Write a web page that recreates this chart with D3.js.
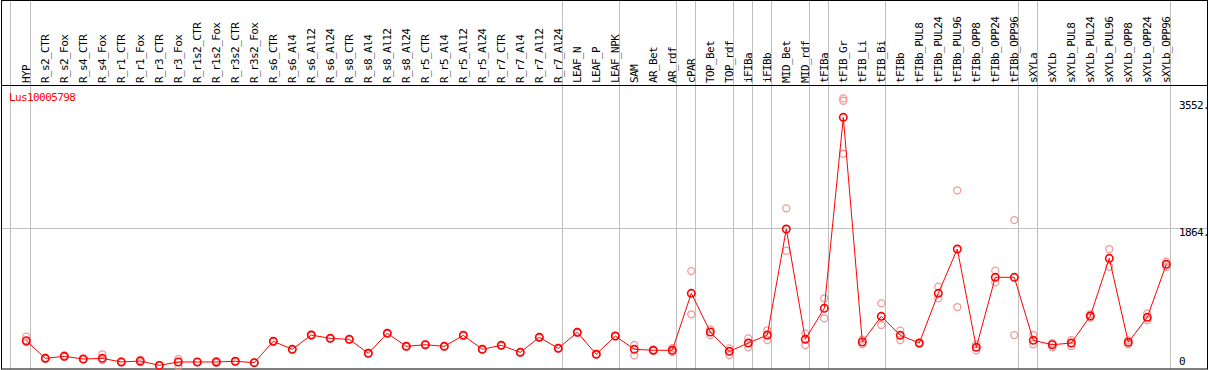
<!DOCTYPE html>
<html>
<meta charset="utf-8">
<style>
body { margin: 0; background: #fff; }
text { font-family: "DejaVu Sans Mono", monospace; font-size: 11px; letter-spacing: -0.6px; }
</style>
<head>
<script src="https://d3js.org/d3.v7.min.js"></script>
</head>
<body>
<script>
// sample names, in column order
var samples = ["HYP", "R_s2_CTR", "R_s2_Fox", "R_s4_CTR", "R_s4_Fox", "R_r1_CTR", "R_r1_Fox",
  "R_r3_CTR", "R_r3_Fox", "R_r1s2_CTR", "R_r1s2_Fox", "R_r3s2_CTR", "R_r3s2_Fox",
  "R_s6_CTR", "R_s6_Al4", "R_s6_Al12", "R_s6_Al24", "R_s8_CTR", "R_s8_Al4", "R_s8_Al12", "R_s8_Al24",
  "R_r5_CTR", "R_r5_Al4", "R_r5_Al12", "R_r5_Al24", "R_r7_CTR", "R_r7_Al4", "R_r7_Al12", "R_r7_Al24",
  "LEAF_N", "LEAF_P", "LEAF_NPK", "SAM", "AR_Bet", "AR_rdf", "cPAR", "TOP_Bet", "TOP_rdf",
  "iFIBa", "iFIBb", "MID_Bet", "MID_rdf", "tFIBa", "tFIB_Gr", "tFIB_Li", "tFIB_Bi",
  "tFIBb", "tFIBb_PUL8", "tFIBb_PUL24", "tFIBb_PUL96", "tFIBb_OPP8", "tFIBb_OPP24", "tFIBb_OPP96",
  "sXYLa", "sXYLb", "sXYLb_PUL8", "sXYLb_PUL24", "sXYLb_PUL96", "sXYLb_OPP8", "sXYLb_OPP24", "sXYLb_OPP96"];

// mean expression
var means = [375, 141, 168, 132, 141, 93, 106, 48, 93, 93, 93, 102, 84,
  367, 261, 450, 406, 393, 208, 473, 300,
  322, 300, 446, 261, 314, 221, 420, 274,
  486, 195, 437, 261, 248, 248, 1003, 490, 234,
  344, 450, 1855, 393, 804, 3335, 358, 698,
  446, 344, 1003, 1590, 287, 1215, 1215,
  380, 322, 344, 702, 1467, 354, 685, 1387];

// replicate values
var reps = [[428, 355], [150, 135], [180, 160], [134, 130], [195, 120], [100, 88], [125, 90],
  [50, 46], [132, 40], [95, 90], [105, 80], [105, 100], [86, 82],
  [370, 364], [265, 258], [455, 445], [410, 402], [395, 390], [212, 204], [480, 468], [305, 296],
  [326, 318], [304, 296], [450, 442], [265, 257], [318, 310], [225, 217], [425, 415], [278, 270],
  [492, 480], [200, 190], [440, 434], [318, 181], [256, 240], [275, 225], [1298, 725], [526, 450], [274, 185],
  [406, 287], [513, 384], [2129, 1568], [473, 318], [937, 672], [3586, 3555, 2853], [390, 327], [870, 583],
  [508, 384], [350, 338], [1091, 937], [2368, 821], [327, 247], [1303, 1149], [1974, 450],
  [450, 327], [344, 287], [384, 305], [725, 680], [1590, 1355], [380, 327], [738, 649], [1422, 1355]];

// last sample of each group (a separator follows it)
var groupEnds = ["HYP", "R_r7_Al24", "LEAF_NPK", "AR_rdf", "cPAR", "TOP_rdf", "iFIBa", "iFIBb",
  "MID_rdf", "tFIBa", "tFIB_Bi", "tFIBb_OPP96", "sXYLa", "sXYLb_OPP96"];

var yTicks = [0, 1864, 3552];
var geneName = "Lus10005798";

var width = 1209, height = 370,
    headerH = 85, bottom = 369;

var x = d3.scalePoint().domain(samples).range([26.3, 1166.3]);
var y = d3.scaleLinear().domain([0, 3552]).range([bottom, 101]);

var svg = d3.select("body").append("svg")
    .attr("width", width)
    .attr("height", height);

// group separators
var seps = [x(samples[0]) - 16].concat(groupEnds.map(function(d) { return x(d) + 4; }));
svg.selectAll("line.sep")
    .data(seps)
  .enter().append("line")
    .attr("class", "sep")
    .attr("x1", function(d) { return Math.round(d) + 0.5; })
    .attr("x2", function(d) { return Math.round(d) + 0.5; })
    .attr("y1", 0)
    .attr("y2", bottom)
    .attr("stroke", "#c0c0c0");

// middle grid line
svg.append("line")
    .attr("x1", 1).attr("x2", 1208)
    .attr("y1", Math.round(y(1864)) + 0.5).attr("y2", Math.round(y(1864)) + 0.5)
    .attr("stroke", "#c0c0c0");

// frame
svg.append("rect")
    .attr("x", 1.5).attr("y", 0.5)
    .attr("width", 1206).attr("height", bottom - 0.5)
    .attr("fill", "none")
    .attr("stroke", "#000");
svg.append("line")
    .attr("x1", 1).attr("x2", 1208)
    .attr("y1", headerH + 0.5).attr("y2", headerH + 0.5)
    .attr("stroke", "#000");

// sample labels
svg.selectAll("text.lab")
    .data(samples)
  .enter().append("text")
    .attr("class", "lab")
    .attr("transform", function(d) { return "translate(" + (x(d) + 3.5) + ",83) rotate(-90)"; })
    .text(function(d) { return d; });

// y labels
svg.selectAll("text.ylab")
    .data(yTicks)
  .enter().append("text")
    .attr("class", "ylab")
    .attr("x", 1179)
    .attr("y", function(d) { return d == 0 ? 365 : y(d) + 8; })
    .text(function(d) { return d == 0 ? "0" : d + "."; });

svg.append("text")
    .attr("x", 9)
    .attr("y", 101)
    .attr("fill", "#ff0000")
    .text(geneName);

// replicates
var repPts = [];
reps.forEach(function(r, i) {
  r.forEach(function(v) { repPts.push({s: samples[i], v: v}); });
});
svg.selectAll("circle.rep")
    .data(repPts)
  .enter().append("circle")
    .attr("class", "rep")
    .attr("cx", function(d) { return x(d.s); })
    .attr("cy", function(d) { return y(d.v); })
    .attr("r", 3.5)
    .attr("fill", "none")
    .attr("stroke", "#f09a9a")
    .attr("stroke-width", 1.3);

// mean line
var line = d3.line()
    .x(function(d, i) { return x(samples[i]); })
    .y(function(d) { return y(d); });
svg.append("path")
    .datum(means)
    .attr("d", line)
    .attr("fill", "none")
    .attr("stroke", "#ff0000")
    .attr("stroke-width", 1);

svg.selectAll("circle.mean")
    .data(means)
  .enter().append("circle")
    .attr("class", "mean")
    .attr("cx", function(d, i) { return x(samples[i]); })
    .attr("cy", function(d) { return y(d); })
    .attr("r", 3.7)
    .attr("fill", "none")
    .attr("stroke", "#ff0000")
    .attr("stroke-width", 1.6);
</script>
</body>
</html>
